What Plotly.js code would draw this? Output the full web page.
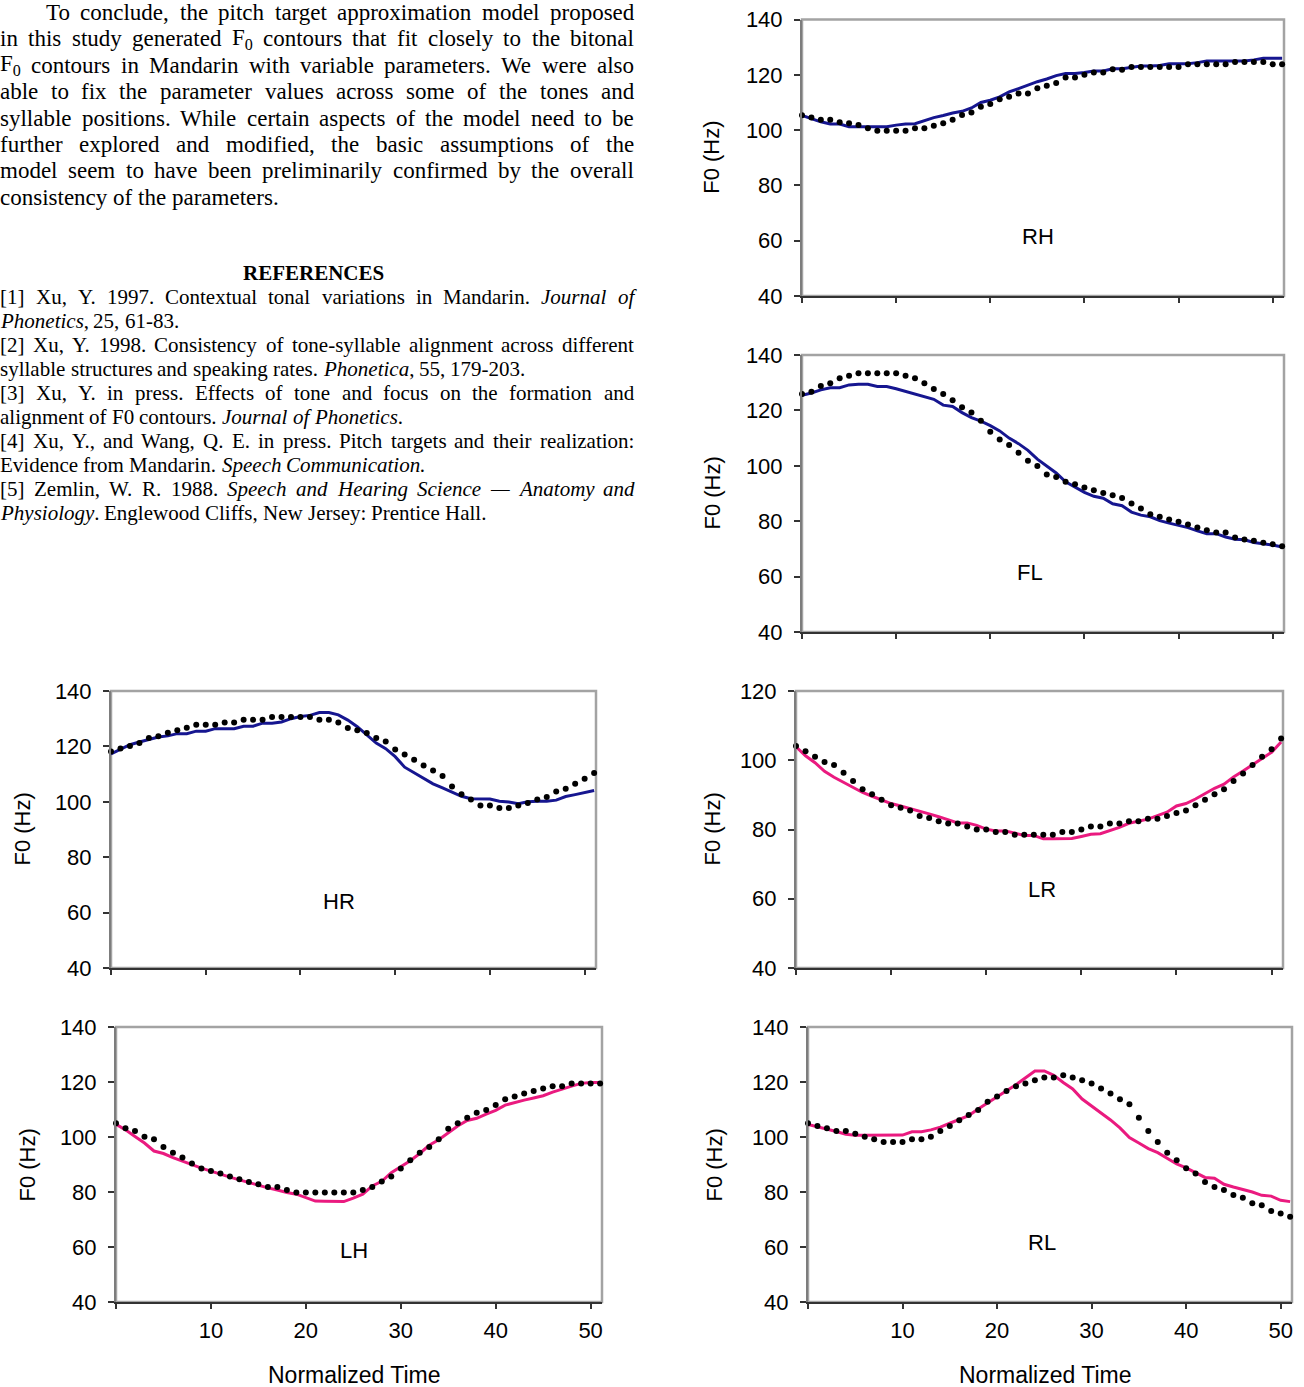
<!DOCTYPE html>
<html><head><meta charset="utf-8">
<script src="https://cdn.plot.ly/plotly-3.0.1.min.js"></script>
<style>html,body{margin:0;padding:0;background:#fff;overflow:hidden}#chart{width:1304px;height:1387px}</style>
</head><body><div id="chart"></div>
<script>
// ---------------- DATA ----------------
const normalizedTime = [0,1,2,3,4,5,6,7,8,9,10,11,12,13,14,15,16,17,18,19,20,21,22,23,24,25,26,27,28,29,30,31,32,33,34,35,36,37,38,39,40,41,42,43,44,45,46,47,48,49,50,51];
const xTickVals = [10,20,30,40,50];
const xTickText = ['10', '20', '30', '40', '50'];
const xOriginTick = [0];
const panelNames = ['RH','FL','HR','LR','LH','RL'];

// solid contours
const rhContour = [105.3,104.2,103,102.2,102.2,101.2,101.2,101.2,101.2,101.2,101.8,102.2,102.3,103.5,104.5,105.3,106.2,106.8,108,110,110.8,112,113.8,115,116.3,117.5,118.5,119.7,120.5,120.5,120.8,121.4,121.4,122.2,122.2,122.8,123.2,123.2,123.4,124,124,124,124.4,125,125,125,125,125,125.4,126,126,126];
const flContour = [125.5,126.3,127.4,128.2,128.2,129.2,129.4,129.4,128.6,128.6,127.8,126.9,126,125.1,124,121.9,121.4,119.2,117.4,116.1,114.5,112.6,110,108,105.6,102.4,100,97.4,94.2,92.2,90.4,89,88.3,86.3,85.6,83.3,82.2,81.6,80.2,79.3,78.5,77.7,76.5,75.5,75.5,74.3,73.5,73.3,72.3,71.9,71.4,70.7];
const hrContour = [117.3,119,120.6,121.6,122.6,123.4,123.8,124.6,124.6,125.5,125.5,126.4,126.4,126.4,127.3,127.3,128.4,128.4,128.8,130,130.8,131.2,132.2,132.2,131.4,129.5,127.1,124.3,121.2,119.2,116.3,112.5,110.5,108.6,106.5,105,103.4,102,101.1,101.1,101,100.2,99.9,99.3,100,100.2,100.2,100.6,101.9,102.6,103.4,104.1];
const lrContour = [103.9,101.3,99.3,96.8,95.1,93.6,92.1,90.7,89.6,88.5,87.5,86.8,86.1,85.3,84.5,83.7,82.7,81.9,81.9,81.2,80.1,79.6,79.6,79,78.3,78.3,77.3,77.3,77.3,77.4,78,78.6,78.8,79.6,80.6,81.8,82.3,83,84,85,86.8,87.5,88.8,90.3,91.9,93.1,95.2,96.9,98.7,100.4,102.3,105.3];
const lhContour = [104.6,102.6,100.2,97.8,94.9,94,92.5,91.2,90,88.7,87.6,86.4,85.4,84.4,83.4,82.5,81.5,80.7,79.8,79.2,78,76.7,76.6,76.5,76.5,77.8,79.2,82.2,83.9,87,89.2,91.4,94,97,99,101.5,104,106,106.8,108.3,109.7,111.6,112.6,113.4,114.2,115,116.3,117.5,118.5,119.5,119.8,119.8];
const rlContour = [104.6,103.8,103,102,101,100.6,100.6,100.6,100.6,100.6,100.7,101.9,101.9,102.6,103.6,105,106.3,107.8,110.2,112.5,114.6,116.8,119,121.6,124,124,122.4,119.8,117.5,113.8,111.3,108.9,106.2,103.3,99.8,97.8,95.8,94.3,92.4,90.2,88.8,87.1,85.3,85,82.8,81.8,81,80,78.8,78.5,77,76.5];

// dotted model contours
const rhModel = [105.4,104.6,103.7,103.7,102.8,102.5,101.8,100.7,99.8,99.8,99.8,99.8,100.7,100.7,101.6,102.5,103.7,105.5,106.4,108.4,109.4,111.2,112.1,113.2,113.2,115.1,116,117,119,119,120,120.8,120.8,122,121.8,122.8,122.8,122.8,122.8,122.8,122.8,123.8,123.8,123.8,123.8,123.8,124.6,124.6,124.6,124.6,123.8,123.8];
const flModel = [125.9,126.7,128.8,129.8,131.6,132.5,133.4,133.4,133.4,133.4,133.4,132.5,131.6,129.8,127.7,125.9,123.7,121.1,119.2,116.3,112.3,109.5,107.5,104.7,101.8,99.9,96.9,96,94.2,93.3,92.2,91.2,90.2,89.4,88.4,86.4,84.6,82.5,81.6,80.6,79.8,78.8,77.7,76.7,75.9,75.9,74.1,73.4,72.9,72.2,71.7,71];
const hrModel = [118.2,119.2,120.1,121.2,123,123.7,124.9,125.8,126.7,127.8,127.8,127.8,128.6,128.6,129.6,129.6,129.6,130.6,130.6,130.6,130.6,130.6,129.6,129.6,128.6,126.6,125.8,124.8,123,121.8,118.9,117.1,115.2,113.1,111.3,109.3,105.5,102.7,100.8,98.7,98.7,97.8,97.8,98.7,99.6,100.8,101.7,103.7,104.7,106.5,108.3,110.4];
const lrModel = [104.1,102.6,101,99.5,98.6,96.4,94,91.6,90.2,88.6,87,86.3,85.5,83.9,83.3,82.4,81.7,81.7,80.9,80,80,79.3,79.3,78.5,78.5,78.5,78.5,78.5,79.3,79.3,80,80.9,80.9,81.7,81.7,82.4,82.4,83.1,83.1,83.9,84.8,85.5,87,88.6,90.2,91.6,94,96.2,98.6,101,103.2,106.3];
const lhModel = [105,103.2,102.2,100.1,99.2,96.4,94.3,92.5,90.4,88.5,87.6,86.7,85.6,84.6,83.6,82.8,81.8,81.8,80.7,79.8,79.8,79.8,79.8,79.8,79.8,79.8,80.7,81.8,83.8,85.6,88.5,91.5,94.3,96.4,99.2,103,105,107,108.8,109.8,111.6,113.7,114.7,115.8,116.7,117.6,118.5,118.5,119.5,119.5,119.5,119.5];
const rlModel = [105,104,103.2,102.2,102.2,101.2,100.1,99.2,98.2,98.2,98.2,99.2,99.2,100.1,102.2,104,106.1,108,109.8,112.8,114.7,116.7,118.5,119.5,120.6,121.6,121.6,122.5,121.6,120.6,119.5,117.6,115.8,113.7,111.9,107,102.2,98.2,94.3,91.5,88.6,86.7,83.6,81.8,80.7,78.9,77.9,75.9,75.2,73.1,72.2,71];

// text of the page
const paraLines = [
  "To conclude, the pitch target approximation model proposed",
  "in this study generated F<sub>0</sub> contours that fit closely to the bitonal",
  "F<sub>0</sub> contours in Mandarin with variable parameters. We were also",
  "able to fix the parameter values across some of the tones and",
  "syllable positions. While certain aspects of the model need to be",
  "further explored and modified, the basic assumptions of the",
  "model seem to have been preliminarily confirmed by the overall",
  "consistency of the parameters."
];
const refHeading = "REFERENCES";
const refLines = [
  "[1] Xu, Y. 1997. Contextual tonal variations in Mandarin. <i>Journal of</i>",
  "<i>Phonetics</i>, 25, 61-83.",
  "[2] Xu, Y. 1998. Consistency of tone-syllable alignment across different",
  "syllable structures and speaking rates. <i>Phonetica</i>, 55, 179-203.",
  "[3] Xu, Y. in press. Effects of tone and focus on the formation and",
  "alignment of F0 contours. <i>Journal of Phonetics</i>.",
  "[4] Xu, Y., and Wang, Q. E. in press. Pitch targets and their realization:",
  "Evidence from Mandarin. <i>Speech Communication.</i>",
  "[5] Zemlin, W. R. 1988. <i>Speech and Hearing Science — Anatomy and</i>",
  "<i>Physiology</i>. Englewood Cliffs, New Jersey: Prentice Hall."
];
const yTitle = "F0 (Hz)";
const xTitle = "Normalized Time";

// ---------------- LAYOUT ----------------
const W = 1304, H = 1387;
const NAVY = '#161690', PINK = '#ea1a7f';
const SANS = 'Liberation Sans, Arial, sans-serif';
const SERIF = 'Liberation Serif';

const contours = [rhContour, flContour, hrContour, lrContour, lhContour, rlContour];
const models = [rhModel, flModel, hrModel, lrModel, lhModel, rlModel];
const panelStyle = [
  {color:NAVY, box:[802,1284,19.5,296], yr:[40,140], labels:false, tag:[1038,237], yt:712},
  {color:NAVY, box:[802,1284,355,632], yr:[40,140], labels:false, tag:[1030,573], yt:712},
  {color:NAVY, box:[111,596,691,968], yr:[40,140], labels:false, tag:[339,901], yt:22},
  {color:PINK, box:[796,1283,691,968], yr:[40,120], labels:false, tag:[1042,889], yt:712},
  {color:PINK, box:[116,602,1027,1302], yr:[40,140], labels:true, tag:[354,1250], yt:27},
  {color:PINK, box:[808,1292,1027,1302], yr:[40,140], labels:true, tag:[1042,1242], yt:714}
];

const traces = [];
const layout = {
  width: W, height: H, margin:{l:0,r:0,t:0,b:0},
  paper_bgcolor:'#fff', plot_bgcolor:'#fff', showlegend:false,
  font:{family:SANS, color:'#000'},
  shapes:[], annotations:[]
};

panelNames.forEach((name, k) => {
  const i = k + 1, s = panelStyle[k];
  const xa = 'x' + (i > 1 ? i : ''), ya = 'y' + (i > 1 ? i : '');
  const [l, r, t, b] = s.box;
  layout['xaxis' + (i > 1 ? i : '')] = {
    domain:[l/W, r/W], range:[0, 51.2], anchor:ya,
    showgrid:false, zeroline:false, showline:true, linecolor:'#333', linewidth:2,
    ticks:'outside', ticklen:5, tickwidth:2, tickcolor:'#333',
    tickmode:'array', tickvals:xTickVals, ticktext:xTickText,
    minor:{tickmode:'array', tickvals:xOriginTick, ticks:'outside', ticklen:5, tickwidth:2, tickcolor:'#333', showgrid:false},
    showticklabels:s.labels, tickfont:{family:SANS, size:22, color:'#000'},
    ticklabelstandoff:3, fixedrange:true
  };
  layout['yaxis' + (i > 1 ? i : '')] = {
    domain:[1 - b/H, 1 - t/H], range:s.yr, anchor:xa,
    showgrid:false, zeroline:false, showline:true, linecolor:'#7d7d7d', linewidth:2,
    ticks:'outside', ticklen:6, tickwidth:2, tickcolor:'#333',
    tick0:40, dtick:20, tickfont:{family:SANS, size:22, color:'#000'},
    ticklabelstandoff:7, fixedrange:true
  };
  layout.shapes.push({type:'rect', xref:xa+' domain', yref:ya+' domain', x0:0, x1:1, y0:0, y1:1,
    line:{color:'#a3a3a3', width:2.5}, layer:'below'});
  traces.push({type:'scatter', mode:'lines', x:normalizedTime, y:contours[k], xaxis:xa, yaxis:ya,
    line:{color:s.color, width:3}, hoverinfo:'skip', showlegend:false});
  traces.push({type:'scatter', mode:'markers', x:normalizedTime, y:models[k], xaxis:xa, yaxis:ya,
    marker:{color:'#000', size:6}, cliponaxis:false, hoverinfo:'skip', showlegend:false});
  layout.annotations.push({xref:'paper', yref:'paper', x:s.tag[0]/W, y:1 - s.tag[1]/H, text:name,
    showarrow:false, xanchor:'center', yanchor:'middle', font:{family:SANS, size:22, color:'#000'}});
  layout.annotations.push({xref:'paper', yref:'paper', x:s.yt/W, y:1 - (t+b)/2/H, text:yTitle,
    textangle:-90, showarrow:false, xanchor:'center', yanchor:'middle', font:{family:SANS, size:22, color:'#000'}});
  if (s.labels) {
    layout.annotations.push({xref:'paper', yref:'paper', x:(l + (r-l)*0.49)/W, y:1 - 1375/H, text:xTitle,
      showarrow:false, xanchor:'center', yanchor:'middle', font:{family:SANS, size:23, color:'#000'}});
  }
});

// ---------------- JUSTIFIED PAGE TEXT ----------------
const cv = document.createElement('canvas').getContext('2d');
function parseWords(str) {
  const chars = []; let it = false, sub = false, i = 0;
  while (i < str.length) {
    if (str.startsWith('<i>', i)) { it = true; i += 3; continue; }
    if (str.startsWith('</i>', i)) { it = false; i += 4; continue; }
    if (str.startsWith('<sub>', i)) { sub = true; i += 5; continue; }
    if (str.startsWith('</sub>', i)) { sub = false; i += 6; continue; }
    chars.push({c:str[i], it, sub}); i++;
  }
  const words = []; let cur = [];
  chars.forEach(ch => { if (ch.c === ' ') { if (cur.length) { words.push(cur); cur = []; } } else cur.push(ch); });
  if (cur.length) words.push(cur);
  return words.map(w => {
    const runs = [];
    w.forEach(ch => { const last = runs[runs.length-1];
      if (last && last.it === ch.it && last.sub === ch.sub) last.t += ch.c; else runs.push({t:ch.c, it:ch.it, sub:ch.sub}); });
    return runs;
  });
}
function runsWidth(runs, size, bold) {
  let w = 0;
  runs.forEach(r => { cv.font = (r.it ? 'italic ' : '') + (bold ? 'bold ' : '') + (r.sub ? size*0.7 : size) + 'px "' + SERIF + '"';
    w += cv.measureText(r.t).width; });
  return w;
}
function runsMarkup(runs) {
  return runs.map(r => { let t = r.t; if (r.sub) t = '<sub>' + t + '</sub>'; if (r.it) t = '<i>' + t + '</i>'; return t; }).join('');
}
function placeLine(str, x0, xRight, yc, size, justify) {
  const words = parseWords(str);
  const widths = words.map(w => runsWidth(w, size, false));
  cv.font = size + 'px "' + SERIF + '"';
  let gap = cv.measureText(' ').width;
  if (justify && words.length > 1) gap = (xRight - x0 - widths.reduce((a,b)=>a+b,0)) / (words.length - 1);
  let x = x0;
  words.forEach((w, j) => {
    layout.annotations.push({xref:'paper', yref:'paper', x:x/W, y:1 - yc/H, text:runsMarkup(w),
      showarrow:false, xanchor:'left', yanchor:'middle', borderpad:0, borderwidth:0,
      font:{family:SERIF, size:size, color:'#000'}});
    x += widths[j] + gap;
  });
}
const paraSize = 23, refSize = 21, textLeft = 0, textRight = 634;
paraLines.forEach((ln, j) => placeLine(ln, j === 0 ? 46 : textLeft, textRight, 12.5 + j*26.4, paraSize, j < paraLines.length - 1));
layout.annotations.push({xref:'paper', yref:'paper', x:313/W, y:1 - 273/H, text:'<b>' + refHeading + '</b>',
  showarrow:false, xanchor:'center', yanchor:'middle', font:{family:SERIF, size:21, color:'#000'}});
refLines.forEach((ln, j) => placeLine(ln, textLeft, textRight, 297 + j*24, refSize, j % 2 === 0));

Plotly.newPlot('chart', traces, layout, {displayModeBar:false, staticPlot:true});
</script></body></html>
